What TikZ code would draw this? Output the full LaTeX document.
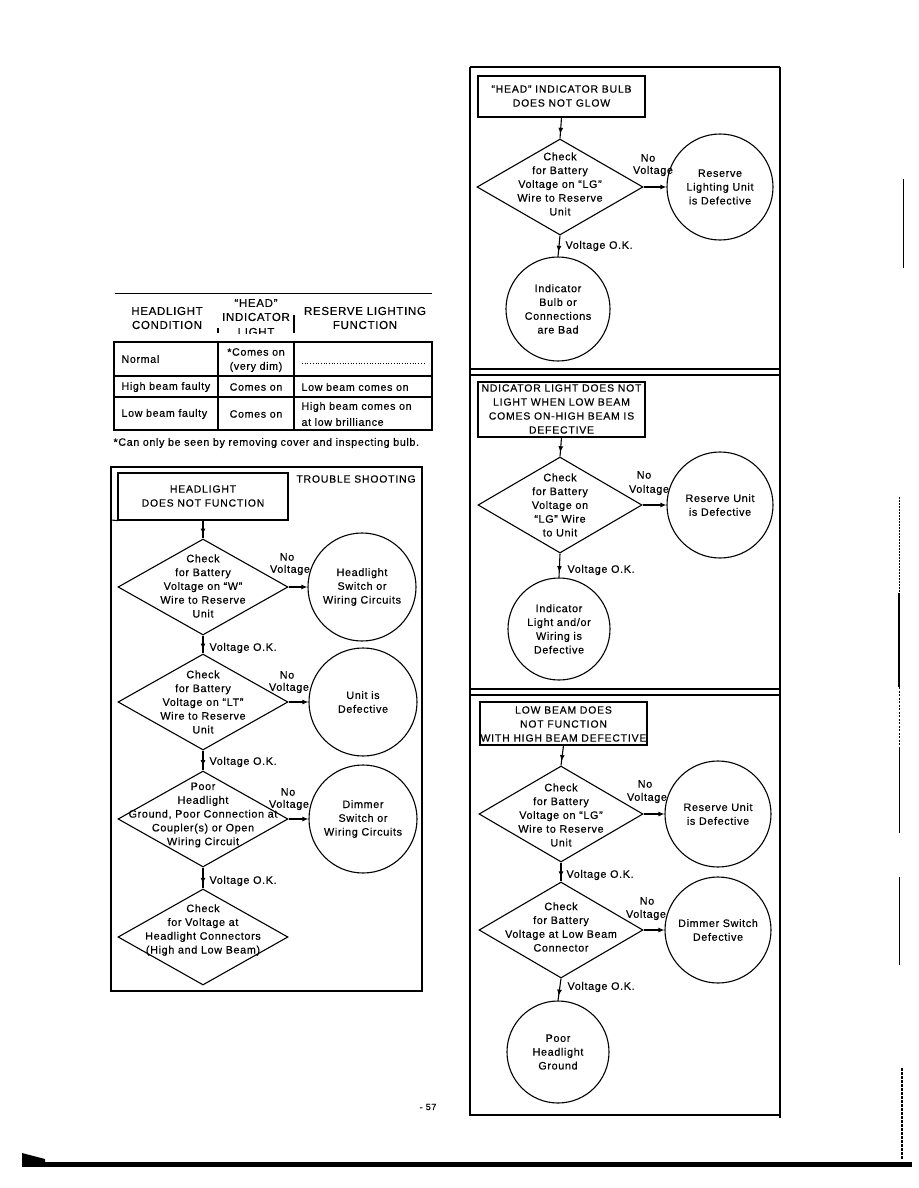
\documentclass[tikz,border=0pt]{standalone}
\usepackage{fontspec}
\setmainfont{Liberation Sans}[LetterSpace=6,FakeBold=0.4]
\newfontfamily\ttlfont{Liberation Sans}[LetterSpace=8,FakeBold=0.4]
\usetikzlibrary{shapes.geometric,arrows.meta,decorations.markings}
\begin{document}
\begin{tikzpicture}[x=1pt,y=-1pt,line width=1.1pt,
  every node/.style={inner sep=0pt, align=center, font=\fontsize{10.8}{13.8}\selectfont},
  hdr/.style={font=\fontsize{11.5}{14}\selectfont},
  body/.style={font=\fontsize{10.7}{15}\selectfont},
  ttl/.style={font=\ttlfont\fontsize{10.4}{14}\selectfont},
  dia/.style={draw, diamond, minimum width=#1, minimum height=96pt},
  circ/.style={draw, circle, minimum size=#1},
  tbox/.style={draw, line width=1.1pt},
  varr/.style={decoration={markings, mark=at position 0.78 with {\arrow{Latex[length=6pt,width=5pt]}}}, postaction={decorate}},
  harr/.style={-{Latex[length=6pt,width=5pt]}}]
\useasboundingbox (0,0) rectangle (918,1188);
\fill[white] (0,0) rectangle (918,1188);

% ---------------- table ----------------
\draw[line width=0.8pt] (115,293) -- (432,293);
\node[hdr] (h1a) at (167,311) {HEADLIGHT};
\node[hdr] (h1b) at (167,325) {CONDITION};
\node[hdr] (h2a) at (256,303) {“HEAD”};
\node[hdr] (h2b) at (256,317) {INDICATOR};
\begin{scope}
  \clip (221,300) rectangle (292,333);
  \node[hdr] (h2c) at (256,332) {LIGHT};
\end{scope}
\node[hdr] (h3a) at (365,311) {RESERVE LIGHTING};
\node[hdr] (h3b) at (365,325) {FUNCTION};
\draw (218,328) -- (218,333);
\draw (294,315) -- (294,333);

\draw (114,342) rectangle (432,430);
\draw (218,342) -- (218,430);
\draw (294,342) -- (294,430);
\draw (114,376) -- (432,376);
\draw (114,397) -- (432,397);
\node[body,anchor=west] (r1a) at (121,359) {Normal};
\node[body] (r1b) at (256,352) {*Comes on};
\node[body] (r1c) at (256,367) {(very dim)};
\draw[dotted, line width=0.7pt] (302,363) -- (426,363);
\node[body,anchor=west] (r2a) at (121,387) {High beam faulty};
\node[body] (r2b) at (256,387) {Comes on};
\node[body,anchor=west] (r2c) at (301,387) {Low beam comes on};
\node[body,anchor=west] (r3a) at (121,414) {Low beam faulty};
\node[body] (r3b) at (256,414) {Comes on};
\node[body,anchor=west] (r3c) at (301,407) {High beam comes on};
\node[body,anchor=west] (r3d) at (301,422) {at low brilliance};
\node[body,anchor=west] (fn) at (113,443) {*Can only be seen by removing cover and inspecting bulb.};

% ---------------- left flowchart ----------------
\draw (111,467) rectangle (422,991);
\node[tbox, minimum width=170pt, minimum height=47pt] (t1) at (203,496.5) {};
\node[ttl] (t1t) at (203,496) {HEADLIGHT\\DOES NOT FUNCTION};
\draw (111,520) -- (t1.south west);
\node[ttl] (ts) at (356,479) {TROUBLE SHOOTING};

\node[dia=170pt] (d1) at (203,587) {};
\node (d1t) at (203,586) {Check\\for Battery\\Voltage on “W”\\Wire to Reserve\\Unit};
\node[circ=108pt] (c1) at (362,587) {Headlight\\Switch or\\Wiring Circuits};
\node (n1) at (287,557) {No};
\node (v1) at (290,570) {Voltage};
\draw[varr] (t1.south) -- (d1.north);
\draw[harr] (d1.east) -- (c1.west);

\node[dia=170pt] (d2) at (203,702) {};
\node (d2t) at (203,702) {Check\\for Battery\\Voltage on “LT”\\Wire to Reserve\\Unit};
\node[circ=108pt] (c2) at (363,702) {Unit is\\Defective};
\node (n2) at (287,675) {No};
\node (v2) at (289,688) {Voltage};
\node[anchor=west] (ok1) at (209,648) {Voltage O.K.};
\draw[varr] (d1.south) -- (d2.north);
\draw[harr] (d2.east) -- (c2.west);

\node[dia=170pt] (d3) at (203,819) {};
\node (d3t) at (203,815) {Poor\\Headlight\\Ground, Poor Connection at\\Coupler(s) or Open\\Wiring Circuit};
\node[circ=108pt] (c3) at (363,819) {Dimmer\\Switch or\\Wiring Circuits};
\node (n3) at (288,792) {No};
\node (v3) at (289,805) {Voltage};
\node[anchor=west] (ok2) at (209,762) {Voltage O.K.};
\draw[varr] (d2.south) -- (d3.north);
\draw[harr] (d3.east) -- (c3.west);

\node[dia=170pt] (d4) at (203,937) {};
\node (d4t) at (203,930) {Check\\for Voltage at\\Headlight Connectors\\(High and Low Beam)};
\node[anchor=west] (ok3) at (209,881) {Voltage O.K.};
\draw[varr] (d3.south) -- (d4.north);

% ---------------- right column frame ----------------
\draw (470,67) -- (470,1116);
\draw (780,67) -- (780,1118);
\draw (470,67) -- (780,67);
\draw (470,1115) -- (780,1115);
\draw (470,369) -- (780,369);
\draw[line width=1.8pt] (470,375) -- (780,375);
\draw (470,689) -- (780,689);
\draw[line width=1.8pt] (470,695) -- (780,695);

% section 1
\node[tbox, minimum width=167pt, minimum height=41pt] (t2) at (561.5,96.5) {};
\node[ttl] (t2t) at (561.5,96) {“HEAD” INDICATOR BULB\\DOES NOT GLOW};
\node[dia=166pt] (e1) at (560,187) {};
\node (e1t) at (560,184) {Check\\for Battery\\Voltage on “LG”\\Wire to Reserve\\Unit};
\node[circ=106pt] (f1) at (720,187) {Reserve\\Lighting Unit\\is Defective};
\node (m1) at (648,158) {No};
\node (w1) at (653,171) {Voltage};
\node[circ=104pt] (g1) at (558,309) {Indicator\\Bulb or\\Connections\\are Bad};
\node[anchor=west] (ok4) at (565,246) {Voltage O.K.};
\draw[varr] (t2.south) -- (e1.north);
\draw[harr] (e1.east) -- (f1.west);
\draw[varr] (e1.south) -- (g1.north);

% section 2
\node[tbox, minimum width=167pt, minimum height=55pt] (t3) at (561.5,409.5) {};
\node[ttl] (t3t) at (561.5,409) {NDICATOR LIGHT DOES NOT\\LIGHT WHEN LOW BEAM\\COMES ON-HIGH BEAM IS\\DEFECTIVE};
\node[dia=164pt] (e2) at (560,505) {};
\node (e2t) at (560,505) {Check\\for Battery\\Voltage on\\“LG” Wire\\to Unit};
\node[circ=106pt] (f2) at (720,505) {Reserve Unit\\is Defective};
\node (m2) at (644,475) {No};
\node (w2) at (649,490) {Voltage};
\node[circ=102pt] (g2) at (559,629) {Indicator\\Light and/or\\Wiring is\\Defective};
\node[anchor=west] (ok5) at (567,570) {Voltage O.K.};
\draw[varr] (t3.south) -- (e2.north);
\draw[harr] (e2.east) -- (f2.west);
\draw[varr] (e2.south) -- (g2.north);

% section 3
\node[tbox, minimum width=167pt, minimum height=43pt] (t4) at (563.5,723.5) {};
\node[ttl] (t4t) at (563.5,724) {LOW BEAM DOES\\NOT FUNCTION\\WITH HIGH BEAM DEFECTIVE};
\node[dia=164pt] (e3) at (561,814) {};
\node (e3t) at (561,815) {Check\\for Battery\\Voltage on “LG”\\Wire to Reserve\\Unit};
\node[circ=106pt] (f3) at (718,814) {Reserve Unit\\is Defective};
\node (m3) at (645,784) {No};
\node (w3) at (647,798) {Voltage};
\node[anchor=west] (ok6) at (566,875) {Voltage O.K.};
\draw[varr] (t4.south) -- (e3.north);
\draw[harr] (e3.east) -- (f3.west);

\node[dia=164pt] (e4) at (561,930) {};
\node (e4t) at (561,927) {Check\\for Battery\\Voltage at Low Beam\\Connector};
\node[circ=106pt] (f4) at (718,930) {Dimmer Switch\\Defective};
\node (m4) at (647,901) {No};
\node (w4) at (646,915) {Voltage};
\node[anchor=west] (ok7) at (567,987) {Voltage O.K.};
\draw[varr] (e3.south) -- (e4.north);
\draw[harr] (e4.east) -- (f4.west);

\node[circ=102pt] (g4) at (558,1052) {Poor\\Headlight\\Ground};
\draw[varr] (e4.south) -- (g4.north);

% ---------------- page furniture ----------------
\node[font=\fontsize{9}{10}\selectfont] (pg) at (428,1107) {- 57};
\fill (22,1162) rectangle (912,1167);
\fill (22,1153) -- (45,1159) -- (45,1163) -- (22,1163) -- cycle;
\draw[line width=0.9pt] (903,179) -- (903,268);
\draw[line width=0.8pt, dash pattern=on 2pt off 1pt] (899,497) -- (899,593);
\draw[line width=2.5pt] (899,593) -- (899,687);
\draw[line width=1pt, dash pattern=on 2pt off 1.5pt] (899,687) -- (899,747);
\draw[line width=0.8pt] (899,747) -- (899,833);
\draw[line width=0.8pt] (899,877) -- (899,965);
\draw[line width=1.3pt, dash pattern=on 3pt off 1pt] (902,1068) -- (902,1160);
\end{tikzpicture}
\end{document}
